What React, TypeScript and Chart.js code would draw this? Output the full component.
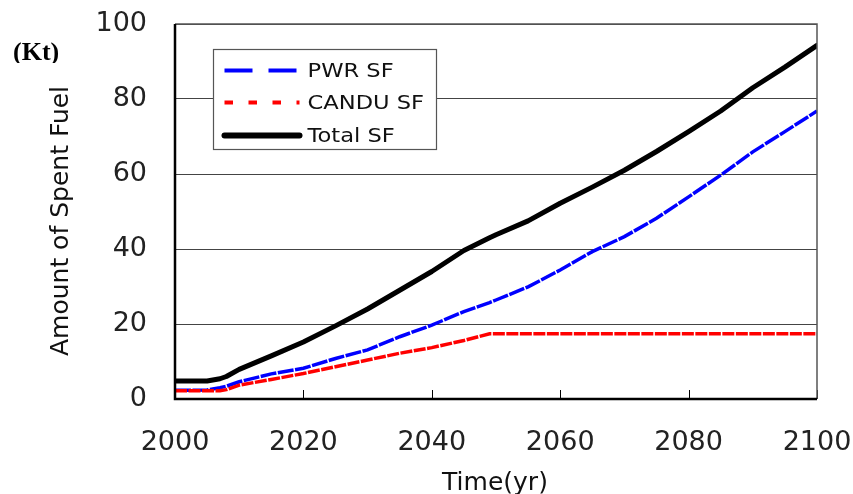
import React, { useEffect, useRef } from 'react';
import { Chart, registerables } from 'chart.js';
Chart.register(...registerables);

const years = [2000, 2005, 2007, 2008, 2010, 2015, 2020, 2025, 2030, 2035, 2040, 2045, 2049, 2050, 2055, 2060, 2065, 2070, 2075, 2080, 2085, 2090, 2095, 2100];
const pwrSF = [2.3, 2.4, 3.0, 3.4, 4.6, 6.7, 8.2, 10.8, 13.1, 16.6, 19.7, 23.3, 25.7, 26.4, 29.9, 34.4, 39.3, 43.3, 48.2, 53.9, 59.7, 65.9, 71.3, 76.8];
const canduSF = [2.2, 2.2, 2.2, 2.5, 3.7, 5.2, 6.8, 8.6, 10.4, 12.2, 13.7, 15.6, 17.4, 17.4, 17.4, 17.4, 17.4, 17.4, 17.4, 17.4, 17.4, 17.4, 17.4, 17.4];
const totalSF = [4.8, 4.8, 5.4, 6.0, 7.9, 11.5, 15.2, 19.5, 24.0, 29.0, 34.0, 39.6, 43.0, 43.8, 47.5, 52.2, 56.5, 61.0, 66.0, 71.3, 76.8, 83.0, 88.5, 94.3];

const xTicks = [2000, 2020, 2040, 2060, 2080, 2100];
const yTicks = [0, 20, 40, 60, 80, 100];
const seriesLabels = ['PWR SF', 'CANDU SF', 'Total SF'];
const xTitle = 'Time(yr)';
const yTitle = 'Amount of Spent Fuel';
const unitLabel = '(Kt)';

const SANS = "'DejaVu Sans', sans-serif";

const legendStyles = [
  { color: '#0000ff', width: 4, dash: [28, 16], cap: 'butt' as CanvasLineCap },
  { color: '#ff0000', width: 4, dash: [8.5, 15.5], cap: 'butt' as CanvasLineCap },
  { color: '#000000', width: 6, dash: [] as number[], cap: 'round' as CanvasLineCap },
];

const decor = {
  id: 'decor',
  afterDatasetsDraw(chart: any) {
    const { ctx, chartArea: a, scales } = chart;
    const xs = scales.x;
    ctx.save();
    ctx.strokeStyle = '#000';
    ctx.lineWidth = 1;
    xTicks.forEach((v) => {
      const px = Math.round(xs.getPixelForValue(v)) + 0.5;
      ctx.beginPath();
      ctx.moveTo(px, a.bottom);
      ctx.lineTo(px, a.bottom - 9);
      ctx.stroke();
    });
    ctx.strokeStyle = '#555';
    ctx.lineWidth = 1.5;
    ctx.beginPath();
    ctx.moveTo(a.left, a.top);
    ctx.lineTo(a.right, a.top);
    ctx.lineTo(a.right, a.bottom);
    ctx.stroke();
    ctx.strokeStyle = '#000';
    ctx.lineWidth = 2.5;
    ctx.beginPath();
    ctx.moveTo(a.left, a.top);
    ctx.lineTo(a.left, a.bottom);
    ctx.lineTo(a.right, a.bottom);
    ctx.stroke();

    const bx = a.left + 38.5;
    const by = a.top + 25.5;
    const bw = 223;
    const bh = 100;
    ctx.fillStyle = '#fff';
    ctx.fillRect(bx, by, bw, bh);
    ctx.strokeStyle = '#555';
    ctx.lineWidth = 1.2;
    ctx.strokeRect(bx, by, bw, bh);
    const rows = [21, 53, 86];
    seriesLabels.forEach((lab, i) => {
      const st = legendStyles[i];
      const ry = by + rows[i];
      ctx.save();
      ctx.strokeStyle = st.color;
      ctx.lineWidth = st.width;
      ctx.lineCap = st.cap;
      ctx.setLineDash(st.dash);
      ctx.beginPath();
      ctx.moveTo(bx + 11, ry);
      ctx.lineTo(bx + 86, ry);
      ctx.stroke();
      ctx.restore();
      ctx.save();
      ctx.fillStyle = '#111';
      ctx.font = `20px ${SANS}`;
      ctx.textBaseline = 'middle';
      ctx.textAlign = 'left';
      ctx.translate(bx + 94, ry + 1);
      ctx.scale(1.13, 1);
      ctx.fillText(lab, 0, 0);
      ctx.restore();
    });
    ctx.restore();
  },
  afterDraw(chart: any) {
    const { ctx, chartArea: a } = chart;
    ctx.save();
    ctx.fillStyle = '#111';
    ctx.font = `25px ${SANS}`;
    ctx.textAlign = 'center';
    ctx.textBaseline = 'alphabetic';
    ctx.fillText(xTitle, (a.left + a.right) / 2 - 1, 490);
    ctx.save();
    ctx.font = `25px ${SANS}`;
    ctx.translate(68, 221);
    ctx.rotate(-Math.PI / 2);
    ctx.textAlign = 'center';
    ctx.fillText(yTitle, 0, 0);
    ctx.restore();
    ctx.save();
    ctx.beginPath();
    ctx.rect(0, 0, 120, 63);
    ctx.clip();
    ctx.font = `bold 26px 'Liberation Serif', serif`;
    ctx.textAlign = 'left';
    ctx.fillStyle = '#000';
    ctx.fillText(unitLabel, 13, 60);
    ctx.restore();
    ctx.restore();
  },
};

export default function App() {
  const ref = useRef<HTMLCanvasElement | null>(null);
  useEffect(() => {
    document.body.style.margin = '0';
    const canvas = ref.current;
    if (!canvas) return;
    const mk = (vals: number[]) => years.map((x, i) => ({ x, y: vals[i] }));
    const chart = new Chart(canvas, {
      type: 'line',
      data: {
        datasets: [
          {
            label: seriesLabels[0],
            data: mk(pwrSF),
            borderColor: '#0000ff',
            backgroundColor: '#0000ff',
            borderWidth: 3.5,
            borderDash: [16, 1.5],
            pointRadius: 0,
            tension: 0,
            order: 3,
          },
          {
            label: seriesLabels[1],
            data: mk(canduSF),
            borderColor: '#ff0000',
            backgroundColor: '#ff0000',
            borderWidth: 3.5,
            borderDash: [12, 1.5],
            pointRadius: 0,
            tension: 0,
            order: 2,
          },
          {
            label: seriesLabels[2],
            data: mk(totalSF),
            borderColor: '#000000',
            backgroundColor: '#000000',
            borderWidth: 5,
            borderJoinStyle: 'round',
            borderCapStyle: 'round',
            pointRadius: 0,
            tension: 0,
            order: 1,
          },
        ] as any,
      },
      options: {
        animation: false,
        responsive: false,
        maintainAspectRatio: false,
        layout: { padding: { left: 0, right: 36, top: 24, bottom: 0 } },
        plugins: { legend: { display: false }, tooltip: { enabled: false } },
        scales: {
          x: {
            type: 'linear',
            min: 2000,
            max: 2100,
            afterBuildTicks: (s: any) => {
              s.ticks = xTicks.map((v) => ({ value: v }));
            },
            afterFit: (s: any) => {
              s.height = 95;
              s.paddingLeft = 0;
              s.paddingRight = 0;
            },
            grid: { display: false, drawTicks: false },
            border: { display: false },
            ticks: {
              font: { family: SANS, size: 27 },
              color: '#222',
              padding: 28,
              maxRotation: 0,
              autoSkip: false,
              callback: (v: any) => String(v),
            },
          },
          y: {
            min: 0,
            max: 100,
            afterBuildTicks: (s: any) => {
              s.ticks = yTicks.map((v) => ({ value: v }));
            },
            afterFit: (s: any) => {
              s.width = 175;
              s.paddingTop = 0;
              s.paddingBottom = 0;
            },
            grid: { color: '#444', lineWidth: 1, drawTicks: false },
            border: { display: false },
            ticks: {
              font: { family: SANS, size: 27 },
              color: '#222',
              padding: 28,
              callback: (v: any) => String(v),
            },
          },
        },
      } as any,
      plugins: [decor],
    });
    return () => chart.destroy();
  }, []);
  return (
    <div style={{ position: 'absolute', left: 0, top: 0, width: 853, height: 494 }}>
      <canvas ref={ref} width={853} height={494} style={{ display: 'block' }} />
    </div>
  );
}
